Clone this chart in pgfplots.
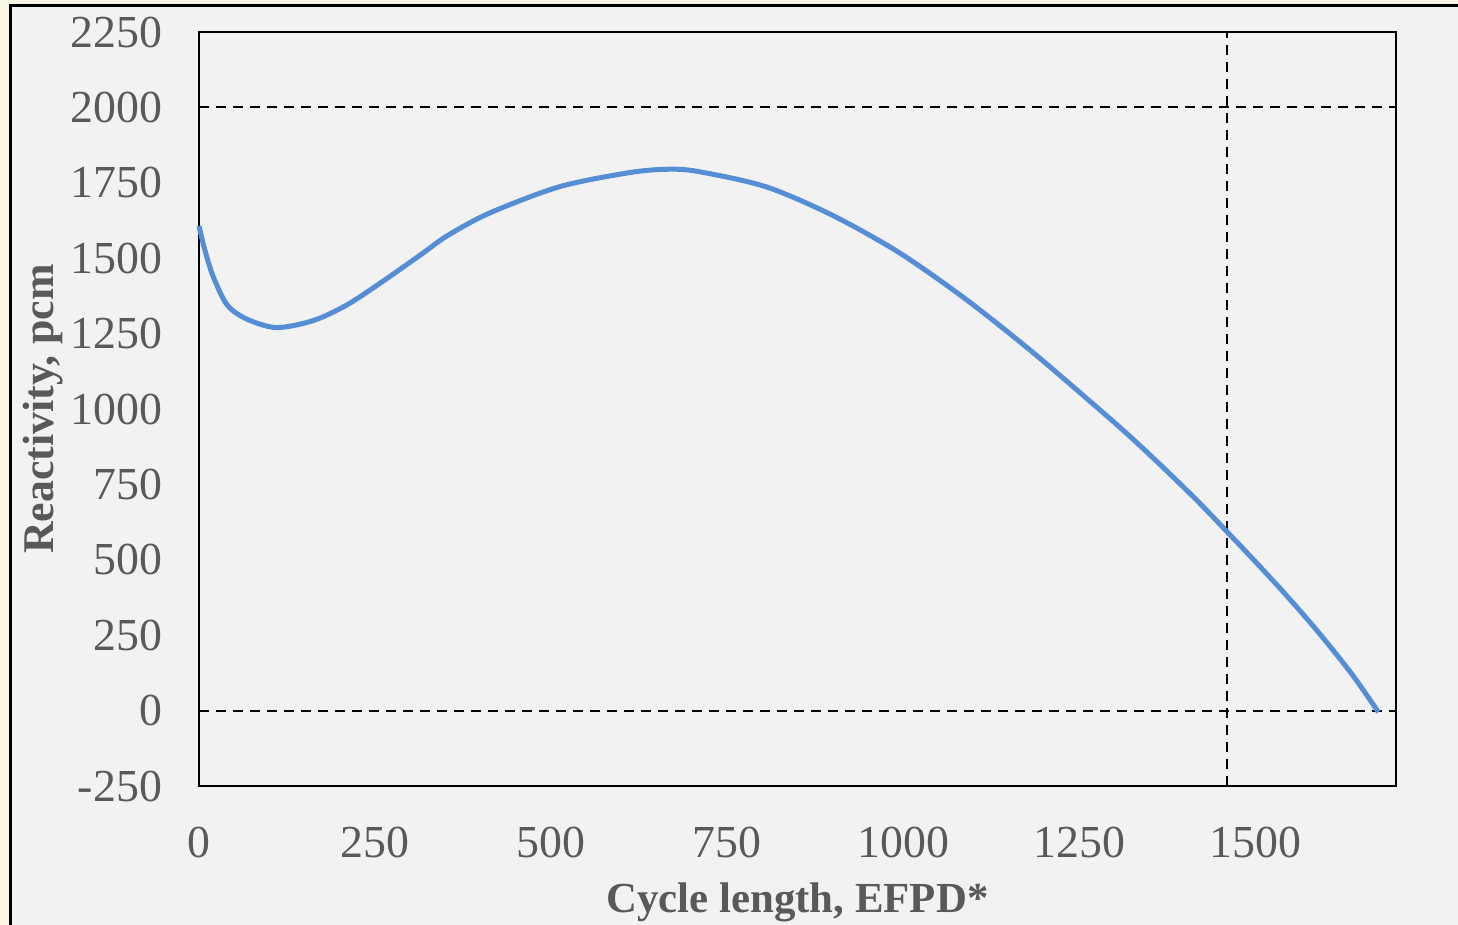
\documentclass[border=0pt]{standalone}
\usepackage{pgfplots}
\pgfplotsset{compat=1.18}
\usepackage{fontspec}
\setmainfont{Liberation Serif}
\definecolor{cream}{RGB}{251,245,228}
\definecolor{panel}{RGB}{242,242,242}
\definecolor{txt}{RGB}{89,89,89}
\definecolor{curve}{RGB}{86,142,214}
\begin{document}
\begin{tikzpicture}
\useasboundingbox (0,0) rectangle (729bp,462.5bp);
\fill[cream] (0,0) rectangle (729bp,462.5bp);
\fill[panel] (5bp,0) rectangle (729bp,459.5bp);
\draw[black,line width=1.5bp] (5bp,0) -- (5bp,459.5bp) -- (729bp,459.5bp);
\begin{axis}[
  at={(99.5bp,69.5bp)}, anchor=south west,
  scale only axis, width=598.5bp, height=377bp,
  xmin=0, xmax=1700, ymin=-250, ymax=2250,
  xtick={0,250,500,750,1000,1250,1500},
  ytick={-250,0,250,500,750,1000,1250,1500,1750,2000,2250},
  major tick length=0pt,
  axis line style={black,line width=1.2bp},
  /pgf/number format/assume math mode=true,
  /pgf/number format/set thousands separator={},
  tick label style={font=\fontsize{23}{27}\selectfont, text=txt},
  yticklabel style={anchor=east, xshift=-15bp},
  xticklabel style={anchor=north, yshift=-17bp},
  xlabel={Cycle length, EFPD*},
  ylabel={Reactivity, pcm},
  xlabel style={font=\fontsize{21.5}{26}\selectfont\bfseries, text=txt,
    at={([yshift=-63bp]axis description cs:0.5,0)}, anchor=base},
  ylabel style={font=\fontsize{22}{26}\selectfont\bfseries, text=txt,
    at={([xshift=-72.5bp]axis description cs:0,0.5)}, anchor=base, rotate=0},
  clip=false,
]
\addplot[black, line width=1bp, dash pattern=on 5bp off 3.5bp] coordinates {(0,0) (1700,0)};
\addplot[black, line width=1bp, dash pattern=on 5bp off 3.5bp] coordinates {(0,2000) (1700,2000)};
\addplot[black, line width=1bp, dash pattern=on 5bp off 3.5bp] coordinates {(1460,-250) (1460,2250)};
\addplot[curve, line width=2.5bp, smooth, tension=0.5] coordinates {
(0,1607) (8,1530) (20,1440) (40,1345) (68,1298) (110,1270) (162,1293)
(210,1345) (259,1420) (314,1510) (353,1575) (413,1650) (512,1737)
(612,1784) (667,1795) (710,1787) (805,1737) (899,1643) (994,1519)
(1089,1364) (1183,1190) (1277,1002) (1325,903) (1372,800) (1419,693)
(1458,598) (1495,507) (1542,388) (1589,262) (1637,122) (1675,-5)
};
\end{axis}
\end{tikzpicture}
\end{document}
